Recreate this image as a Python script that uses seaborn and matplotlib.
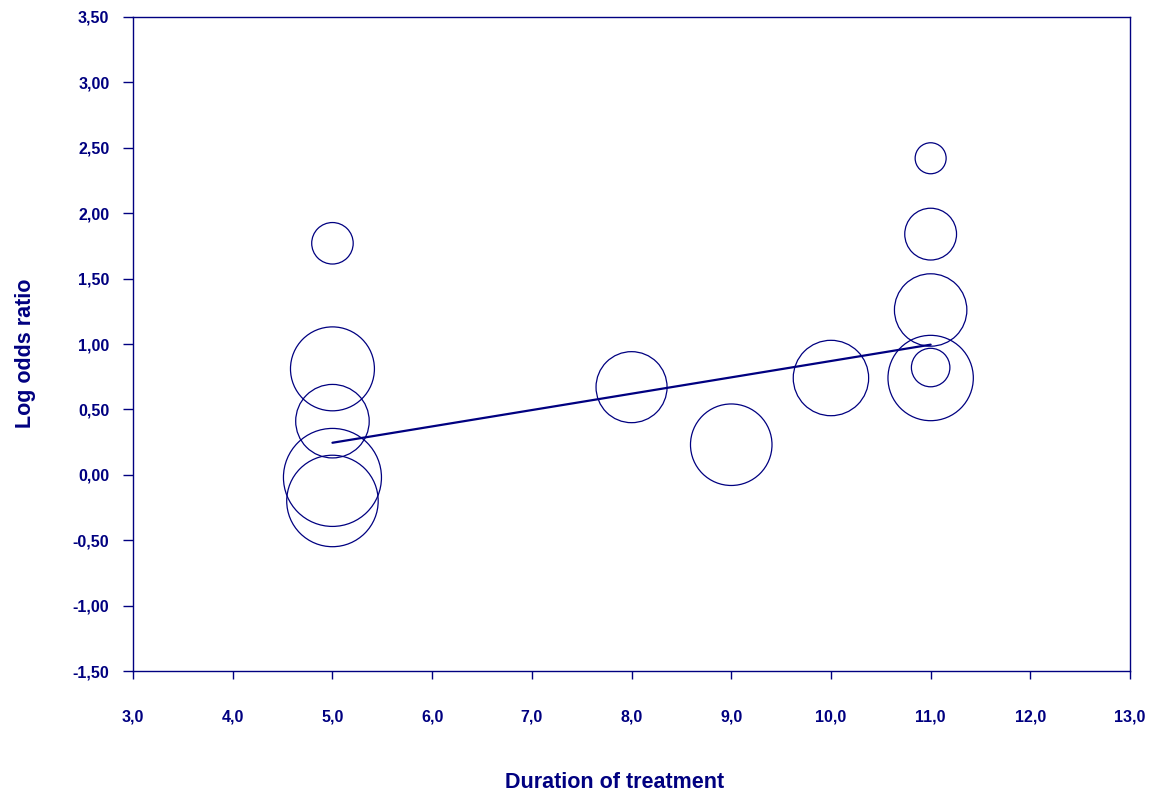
import seaborn as sns
import matplotlib.pyplot as plt
import pandas as pd

# Data
duration = [5, 5, 5, 5, 5, 8, 9, 10, 11, 11, 11, 11, 11]
log_or = [1.77, 0.81, 0.41, -0.02, -0.20, 0.67, 0.23, 0.74,
          2.42, 1.84, 1.26, 0.82, 0.74]
weight = [4.3, 17.6, 13.5, 24.0, 20.9, 12.6, 16.6, 14.2,
          2.4, 6.7, 13.1, 3.7, 18.2]

# meta-regression line
fit_x = [5, 11]
fit_y = [0.245, 0.995]

x_ticks = [3, 4, 5, 6, 7, 8, 9, 10, 11, 12, 13]
x_labels = ['3,0', '4,0', '5,0', '6,0', '7,0', '8,0', '9,0', '10,0',
            '11,0', '12,0', '13,0']
y_ticks = [-1.5, -1.0, -0.5, 0.0, 0.5, 1.0, 1.5, 2.0, 2.5, 3.0, 3.5]
y_labels = ['-1,50', '-1,00', '-0,50', '0,00', '0,50', '1,00', '1,50',
            '2,00', '2,50', '3,00', '3,50']

NAVY = '#000080'

sns.set_style("white")
plt.rcParams['font.family'] = ['Liberation Sans', 'DejaVu Sans']

df = pd.DataFrame({'Duration': duration, 'LogOR': log_or, 'Weight': weight})

fig = plt.figure(figsize=(11.49, 7.94), dpi=100)
ax = fig.add_axes([0.1158, 0.1549, 0.8677, 0.8237])

sns.scatterplot(data=df, x='Duration', y='LogOR', size='Weight',
                sizes=(0, 4980), size_norm=(0, 24.0), legend=False,
                facecolor='none', edgecolor=NAVY, linewidth=0.9, ax=ax)
sns.lineplot(x=fit_x, y=fit_y, color=NAVY, linewidth=1.6, ax=ax)

ax.set_xlim(3, 13)
ax.set_ylim(-1.5, 3.5)
ax.set_xticks(x_ticks)
ax.set_xticklabels(x_labels)
ax.set_yticks(y_ticks)
ax.set_yticklabels(y_labels)

for s in ax.spines.values():
  s.set_color(NAVY)
  s.set_linewidth(1.0)

ax.tick_params(axis='x', bottom=True, direction='out', length=5.5, width=1.0,
               color=NAVY, pad=22, labelsize=11.5, labelcolor=NAVY)
ax.tick_params(axis='y', left=True, direction='out', length=7, width=1.0,
               color=NAVY, pad=10, labelsize=11.5, labelcolor=NAVY)
for lbl in ax.get_xticklabels() + ax.get_yticklabels():
  lbl.set_fontweight('bold')

ax.set_xlabel('Duration of treatment', fontsize=15.5, fontweight='bold',
              color=NAVY, va='center')
ax.set_ylabel('Log odds ratio', fontsize=15.5, fontweight='bold',
              color=NAVY, va='center')
ax.xaxis.set_label_coords(0.483, -0.170)
ax.yaxis.set_label_coords(-0.108, 0.485)

plt.savefig('out.png', dpi=100)
plt.close()
